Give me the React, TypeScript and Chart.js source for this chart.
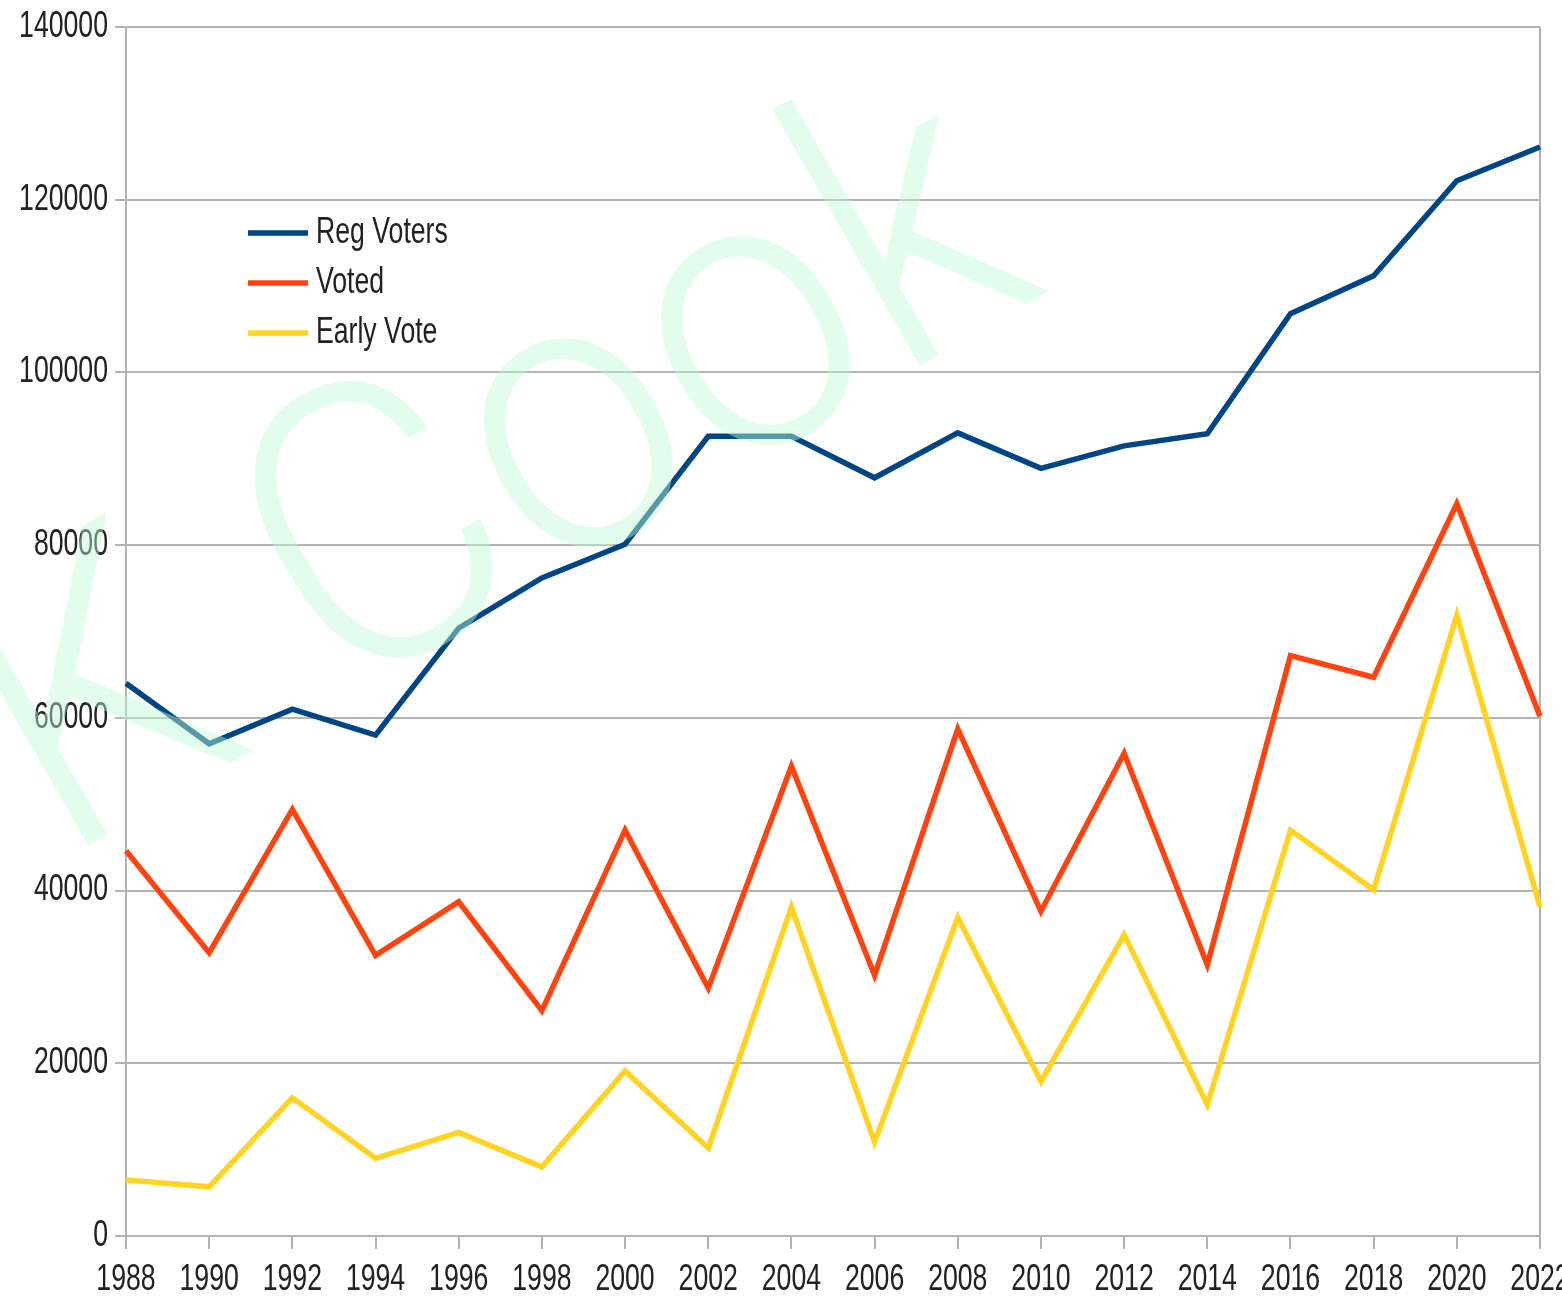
import React, { useEffect, useRef } from "react";
import { Chart, registerables } from "chart.js";

Chart.register(...registerables);

const years = ["1988", "1990", "1992", "1994", "1996", "1998", "2000", "2002", "2004", "2006", "2008", "2010", "2012", "2014", "2016", "2018", "2020", "2022"];
const regVoters = [64000, 57000, 61000, 58000, 70400, 76200, 80100, 92600, 92600, 87800, 93000, 88900, 91500, 92900, 106800, 111200, 122200, 126100];
const voted = [44600, 32800, 49400, 32500, 38700, 26100, 47000, 28700, 54400, 30200, 58700, 37600, 55900, 31400, 67200, 64700, 84800, 60200];
const earlyVote = [6500, 5700, 16000, 9000, 12000, 8000, 19100, 10200, 38100, 10900, 36900, 17900, 34900, 15200, 47000, 40100, 71900, 38100];
const seriesNames = ["Reg Voters", "Voted", "Early Vote"];
const seriesColors = ["#004586", "#ff420e", "#ffd320"];
const watermarkText = "K Cook";

const FONT = "'Liberation Sans', Arial, sans-serif";
const WM_FONT = "Roboto, 'Liberation Sans', sans-serif";
const NARROW = 0.74;
const GRID = "#b3b3b3";
const TEXT = "#222222";

function narrowText(ctx: CanvasRenderingContext2D, text: string, x: number, y: number, align: CanvasTextAlign) {
  ctx.save();
  ctx.translate(x, y);
  ctx.scale(NARROW, 1);
  ctx.textAlign = align;
  ctx.textBaseline = "middle";
  ctx.fillText(text, 0, 0);
  ctx.restore();
}

export default function App() {
  const ref = useRef<HTMLCanvasElement | null>(null);

  useEffect(() => {
    if (!ref.current) return;
    const extras = {
      id: "extras",
      beforeDatasetsDraw(chart: any) {
        const { ctx, chartArea } = chart;
        ctx.save();
        ctx.strokeStyle = GRID;
        ctx.lineWidth = 2;
        ctx.beginPath();
        ctx.moveTo(chartArea.right, chartArea.top);
        ctx.lineTo(chartArea.right, chartArea.bottom + 13);
        ctx.stroke();
        ctx.restore();
      },
      afterDraw(chart: any) {
        const { ctx } = chart;
        const xs = chart.scales.x;
        const ys = chart.scales.y;
        ctx.save();
        ctx.fillStyle = TEXT;
        ctx.font = `36px ${FONT}`;
        ys.ticks.forEach((t: any) => {
          narrowText(ctx, String(t.value), 108, ys.getPixelForValue(t.value), "right");
        });
        years.forEach((lab, i) => {
          narrowText(ctx, lab, xs.getPixelForTick(i), 1280, "center");
        });
        const lx = 248, ly = 233, gap = 50;
        seriesNames.forEach((name, i) => {
          const y = ly + i * gap;
          ctx.strokeStyle = seriesColors[i];
          ctx.lineWidth = 5.5;
          ctx.beginPath();
          ctx.moveTo(lx, y);
          ctx.lineTo(lx + 60, y);
          ctx.stroke();
          ctx.fillStyle = TEXT;
          narrowText(ctx, name, lx + 68, y, "left");
        });
        ctx.restore();
        // watermark
        ctx.save();
        ctx.font = `300 350px ${WM_FONT}`;
        const w = ctx.measureText("K Coo").width;
        const size = 350 * 965 / w;
        ctx.font = `300 ${size}px ${WM_FONT}`;
        const ang = -30 * Math.PI / 180;
        const back = 0.11 * size;
        ctx.translate(95 - back * Math.cos(ang), 842 - back * Math.sin(ang));
        ctx.rotate(ang);
        ctx.scale(1, 1.08);
        ctx.fillStyle = "rgba(190,250,210,0.45)";
        ctx.textBaseline = "alphabetic";
        ctx.textAlign = "left";
        ctx.fillText(watermarkText, 0, 0);
        ctx.restore();
      },
    };

    const chart = new Chart(ref.current, {
      type: "line",
      data: {
        labels: years,
        datasets: [
          { label: seriesNames[0], data: regVoters, borderColor: seriesColors[0], backgroundColor: seriesColors[0] },
          { label: seriesNames[1], data: voted, borderColor: seriesColors[1], backgroundColor: seriesColors[1] },
          { label: seriesNames[2], data: earlyVote, borderColor: seriesColors[2], backgroundColor: seriesColors[2] },
        ].map((d) => ({ ...d, borderWidth: 5.5, pointRadius: 0, tension: 0, fill: false })),
      },
      options: {
        animation: false,
        responsive: false,
        events: [],
        layout: { padding: { left: 0, right: 22, top: 27, bottom: 0 } },
        plugins: { legend: { display: false }, tooltip: { enabled: false } },
        scales: {
          x: {
            offset: false,
            grid: { drawOnChartArea: false, drawTicks: true, tickLength: 13, color: GRID, lineWidth: 2 },
            border: { display: true, color: GRID, width: 2 },
            ticks: { display: false, autoSkip: false, maxRotation: 0 },
            afterFit(scale: any) {
              scale.height = 62;
              scale.paddingRight = 0;
              scale.paddingLeft = 0;
            },
          },
          y: {
            min: 0,
            max: 140000,
            grid: { color: GRID, lineWidth: 2, tickLength: 11, drawTicks: true },
            border: { display: true, color: GRID, width: 2 },
            ticks: { display: false, stepSize: 20000 },
            afterFit(scale: any) {
              scale.width = 126;
              scale.paddingTop = 0;
              scale.paddingBottom = 0;
            },
          },
        },
      },
      plugins: [extras],
    } as any);
    return () => chart.destroy();
  }, []);

  return (
    <div style={{ position: "absolute", left: 0, top: 0, width: 1562, height: 1298, background: "#fff" }}>
      <canvas ref={ref} width={1562} height={1298} />
    </div>
  );
}
